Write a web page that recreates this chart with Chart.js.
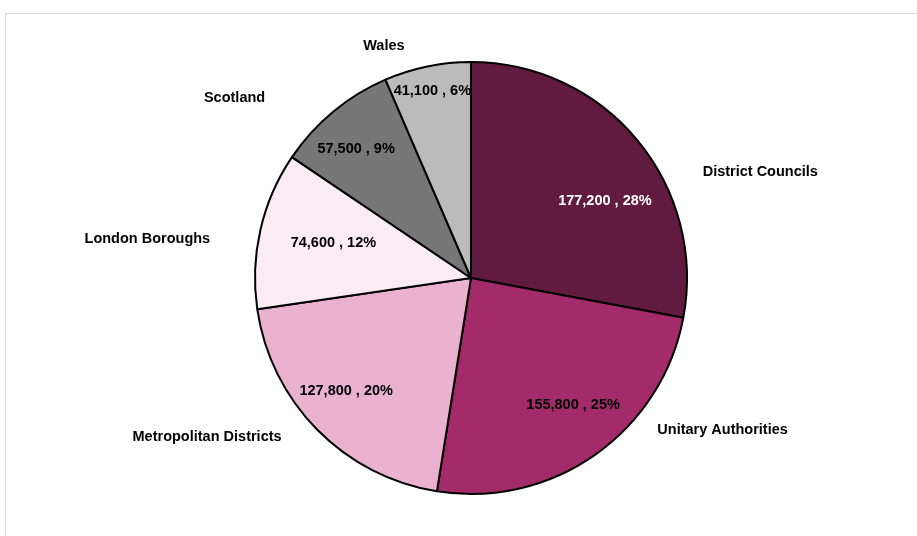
<!DOCTYPE html>
<html>
<head>
<meta charset="utf-8">
<script src="https://cdn.jsdelivr.net/npm/chart.js@4/dist/chart.umd.min.js"></script>
<style>
  html, body { margin: 0; padding: 0; background: #fff; overflow: hidden; }
  .frame {
    position: absolute; left: 5px; top: 13px;
    width: 1000px; height: 1000px;
    border: 1px solid #d9d9d9;
  }
  .wrap { position: absolute; left: 0; top: 0; width: 917px; height: 536px; }
</style>
</head>
<body>
<div class="frame"></div>
<div class="wrap"><canvas id="chart"></canvas></div>
<script>
const categories = [
  'District Councils',
  'Unitary Authorities',
  'Metropolitan Districts',
  'London Boroughs',
  'Scotland',
  'Wales',
]
const employees = [177200, 155800, 127800, 74600, 57500, 41100]
const sliceColours = ['#621b40', '#a42b6a', '#eab2cf', '#fbebf3', '#777777', '#bbbbbb']
const valueTextColours = ['#ffffff', '#000000', '#000000', '#000000', '#000000', '#000000']

// where each slice's labels sit: angle nudge from the slice middle (degrees)
// and distance from the centre as a share of the radius
const valueLabelPlacement = [
  { shift: 9.8, r: 0.715 },
  { shift: -3.6, r: 0.755 },
  { shift: 2.6, r: 0.778 },
  { shift: 1.3, r: 0.657 },
  { shift: -2.0, r: 0.80 },
  { shift: 0, r: 0.884 },
]
const nameLabelPlacement = [
  { shift: 19.6, r: 1.426 },
  { shift: -23.7, r: 1.361 },
  { shift: 13.6, r: 1.426 },
  { shift: -6, r: 1.509 },
  { shift: -13.1, r: 1.375 },
  { shift: -8.9, r: 1.148 },
]

const labelFont = "bold 14.5px 'Liberation Sans', Arial, sans-serif"

const sliceLabels = {
  id: 'sliceLabels',
  afterDatasetsDraw(chart) {
    const { ctx } = chart
    const meta = chart.getDatasetMeta(0)
    const data = chart.data.datasets[0].data
    const total = data.reduce((a, b) => a + b, 0)
    ctx.save()
    ctx.font = labelFont
    ctx.textAlign = 'center'
    ctx.textBaseline = 'middle'
    meta.data.forEach((arc, i) => {
      const { x, y, startAngle, endAngle, outerRadius } = arc.getProps(
        ['x', 'y', 'startAngle', 'endAngle', 'outerRadius'], true)
      const mid = (startAngle + endAngle) / 2
      const place = (p) => {
        const a = mid + (p.shift * Math.PI) / 180
        return [x + Math.cos(a) * outerRadius * p.r, y + Math.sin(a) * outerRadius * p.r]
      }
      const pct = Math.round((data[i] / total) * 100)
      const text = data[i].toLocaleString('en-GB') + ' , ' + pct + '%'
      const [vx, vy] = place(valueLabelPlacement[i])
      ctx.fillStyle = valueTextColours[i]
      ctx.fillText(text, vx, vy)
      const [nx, ny] = place(nameLabelPlacement[i])
      ctx.fillStyle = '#000000'
      ctx.fillText(chart.data.labels[i], nx, ny)
    })
    ctx.restore()
  },
}

new Chart(document.getElementById('chart'), {
  type: 'pie',
  data: {
    labels: categories,
    datasets: [{
      data: employees,
      backgroundColor: sliceColours,
      borderColor: '#000000',
      borderWidth: 2,
    }],
  },
  options: {
    responsive: true,
    maintainAspectRatio: false,
    animation: false,
    radius: 216,
    layout: { padding: { left: 25, right: 0, top: 20, bottom: 0 } },
    plugins: {
      legend: { display: false },
      tooltip: { enabled: false },
    },
  },
  plugins: [sliceLabels],
})
</script>
</body>
</html>
